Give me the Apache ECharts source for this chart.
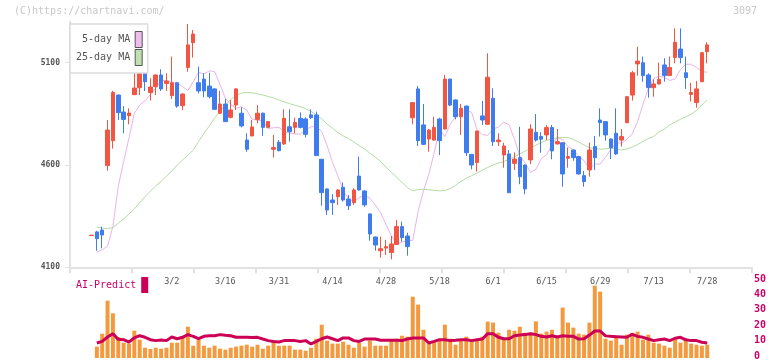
<!DOCTYPE html>
<html><head><meta charset="utf-8">
<script src="https://cdn.jsdelivr.net/npm/echarts@6/dist/echarts.min.js"></script>
<style>html,body{margin:0;padding:0;background:#fff}#c{width:772px;height:361px}</style>
</head><body><div id="c"></div>
<script>
const dates = ['2/6','2/7','2/10','2/12','2/13','2/14','2/17','2/18','2/19','2/20','2/21','2/25','2/26','2/27','2/28',
'3/2','3/3','3/4','3/5','3/6','3/9','3/10','3/11','3/12','3/13','3/16','3/17','3/18','3/19','3/23','3/24','3/25','3/26','3/27','3/30',
'3/31','4/1','4/2','4/3','4/6','4/7','4/8','4/9','4/10','4/13','4/14','4/15','4/16','4/17','4/20','4/21','4/22','4/23','4/24','4/27',
'4/28','4/30','5/1','5/7','5/8','5/11','5/12','5/13','5/14','5/15','5/18','5/19','5/20','5/21','5/22','5/25','5/26','5/27','5/28','5/29',
'6/1','6/2','6/3','6/4','6/5','6/8','6/9','6/10','6/11','6/12','6/15','6/16','6/17','6/18','6/19','6/22','6/23','6/24','6/25','6/26',
'6/29','6/30','7/1','7/2','7/3','7/6','7/7','7/8','7/9','7/10','7/13','7/14','7/15','7/16','7/17','7/20','7/21','7/22','7/24','7/27','7/28'];

const opens = [4255,4273,4282,4597,4719,4942,4859,4841,4944,4978,5061,4954,4983,5040,4999,4939,5002,4890,5077,5198,
5002,5020,4986,4972,4853,4898,4833,4893,4853,4722,4742,4823,4853,4784,4677,4711,4703,4787,4784,4828,
4825,4845,4845,4628,4483,4429,4445,4491,4434,4416,4546,4473,4361,4248,4181,4194,4172,4212,4299,4253,
4831,4972,4796,4727,4722,4825,4776,5020,4918,4836,4888,4652,4612,4840,4799,4926,4714,4649,4654,4608,
4636,4600,4625,4760,4739,4747,4783,4703,4709,4633,4673,4641,4548,4576,4690,4820,4812,4727,4755,4722,
4807,4942,5094,5100,5040,4978,4996,5089,5037,5125,5167,5051,4945,4905,5007,5154];
const closes = [4257,4240,4258,4771,4954,4856,4823,4854,4976,5061,5007,4981,5040,4972,5011,5002,4888,4947,5187,5240,
4962,4962,4934,4872,4898,4812,4869,4972,4791,4677,4786,4853,4784,4812,4685,4670,4828,4763,4808,4784,
4750,4831,4646,4465,4380,4416,4478,4429,4401,4478,4478,4405,4263,4209,4191,4201,4214,4299,4245,4201,
4905,4719,4701,4771,4784,4719,5020,4893,4836,4877,4660,4600,4766,4820,5029,4714,4722,4693,4465,4629,
4543,4483,4776,4722,4726,4783,4669,4714,4556,4641,4636,4556,4519,4673,4636,4807,4747,4685,4654,4739,
4934,5051,5108,5037,4978,4996,5019,5037,5077,5200,5125,5027,4954,4972,5149,5187];
const lows = [4254,4181,4193,4572,4680,4820,4755,4799,4942,4942,4962,4915,4942,4962,4962,4923,4880,4869,5056,5125,
4950,4931,4926,4869,4849,4812,4828,4869,4784,4665,4742,4804,4743,4780,4636,4667,4698,4714,4755,4779,
4735,4825,4646,4401,4356,4356,4405,4421,4380,4405,4475,4396,4230,4181,4147,4160,4139,4209,4225,4157,
4799,4693,4698,4665,4719,4649,4774,4888,4823,4747,4644,4579,4568,4796,4796,4693,4693,4587,4462,4576,
4506,4457,4605,4714,4660,4722,4628,4700,4494,4587,4621,4554,4494,4543,4576,4739,4719,4629,4649,4690,
4804,4915,5037,5007,4929,4934,4994,5007,5035,5097,5097,4972,4910,4880,5005,5097];
const highs = [4258,4278,4299,4820,4963,4945,4888,4877,5089,5126,5064,5024,5043,5068,5048,5130,5004,4950,5289,5260,
5081,5048,5051,4975,4963,4923,4918,4975,4882,4755,4820,4893,4857,4815,4747,4722,4872,4872,4831,4857,
4833,4872,4861,4630,4486,4458,4481,4515,4453,4486,4641,4476,4363,4250,4250,4234,4253,4331,4323,4269,
4907,4986,4898,4776,4836,4831,5040,5022,4921,4898,4890,4654,4768,4913,5146,4975,4755,4709,4673,4662,
4787,4602,4799,4849,4760,4796,4796,4776,4711,4686,4676,4644,4571,4709,4742,4877,4815,4730,4877,4776,
4937,5060,5178,5130,5048,5019,5100,5122,5130,5268,5268,5130,5002,5011,5151,5200];

const ma5 = [null,4173,4186,4203,4300,4496,4616,4732,4852,4893,4914,4944,4976,5013,5012,5002,5001,4983,4964,5007,
5053,5045,5060,5057,4994,4926,4896,4877,4885,4868,4824,4819,4816,4778,4782,4784,4761,4756,4752,4751,
4771,4787,4787,4764,4695,4614,4548,4477,4434,4421,4440,4453,4438,4405,4367,4309,4254,4216,4223,4230,
4232,4373,4474,4554,4659,4776,4739,4799,4837,4850,4869,4857,4773,4748,4745,4775,4786,4810,4796,4725,
4645,4610,4563,4579,4631,4650,4698,4735,4723,4690,4673,4643,4621,4582,4605,4604,4638,4676,4710,4706,
4726,4752,4813,4897,4974,5022,5034,5028,5013,5021,5066,5092,5093,5077,5056,5054];
const ma25 = [null,4296,4292,4288,4295,4315,4337,4360,4385,4415,4445,4472,4498,4520,4545,4570,4600,4625,4648,4673,
4715,4755,4790,4830,4862,4893,4920,4940,4952,4955,4953,4948,4942,4935,4928,4918,4908,4900,4892,4885,
4875,4862,4845,4825,4800,4780,4760,4742,4730,4712,4695,4678,4658,4638,4618,4590,4565,4540,4515,4490,
4474,4480,4481,4479,4476,4474,4475,4485,4500,4520,4535,4548,4560,4575,4588,4600,4610,4617,4628,4640,
4655,4668,4682,4697,4710,4720,4728,4733,4735,4734,4725,4712,4698,4685,4680,4677,4679,4682,4678,4674,
4678,4688,4700,4715,4729,4740,4762,4775,4796,4810,4823,4835,4848,4868,4892,4918];

const volume = [null,7.2,15.4,36.3,28.3,13.3,9.7,9.1,17.3,11.6,6.5,5.7,6.5,5.9,6.5,9.7,9.7,13.3,19.8,7.8,
11.6,7.8,6.5,7.8,5.9,5.3,6.5,7.2,7.8,8.4,7.2,8.4,5.9,7.8,9.7,7.8,7.8,7.8,5.3,5.3,
4.6,6.5,12.2,21.1,11.0,9.1,9.1,10.3,8.4,6.5,9.7,7.2,11.0,7.8,7.8,7.8,11.0,12.2,14.1,13.5,
38.8,33.8,17.9,9.1,11.0,12.2,21.1,12.2,8.4,11.0,13.5,11.0,11.0,13.5,23.0,22.4,16.0,11.6,17.9,17.3,
19.8,16.0,16.0,23.2,15.4,16.7,17.9,14.1,31.9,22.4,19.2,15.4,14.8,22.4,45.8,42.0,12.2,11.0,12.9,8.4,
14.8,16.0,16.7,11.6,14.8,9.7,9.1,7.8,6.5,12.9,9.7,11.6,9.1,8.4,7.8,8.4];
const aiPredict = [null,9.5,10.5,13.3,15.4,11.8,11.6,10.1,12.7,14.1,13.1,11.6,11.0,11.4,11.0,13.3,12.2,13.1,14.8,13.7,
12.2,13.7,14.1,14.1,14.8,14.4,14.1,13.1,13.1,13.1,12.9,13.1,12.0,11.0,10.5,10.1,11.0,11.0,11.0,10.5,
11.0,8.9,10.5,12.2,13.3,12.2,11.0,12.7,12.7,11.0,10.5,12.0,12.0,12.0,11.2,11.2,11.2,11.2,11.0,12.0,
12.7,12.7,12.7,9.5,10.5,11.6,11.6,11.0,11.2,11.6,11.6,11.0,11.6,12.0,15.4,15.4,13.1,12.2,12.2,14.1,
14.5,14.8,15.4,14.8,13.7,13.3,14.1,13.3,14.1,13.7,13.7,12.0,12.2,14.5,17.1,17.1,14.0,13.7,13.5,13.3,
13.1,15.0,13.7,13.1,12.0,11.0,11.5,12.0,11.0,12.5,13.1,11.5,11.0,11.0,10.0,9.5];

const priceTicks = ['4100','4200','4300','4400','4500','4600','4700','4800','4900','5000','5100','5200','5300'];

const MONO = 'DejaVu Sans Mono';
const candleData = opens.map((o, i) => [o, closes[i], lows[i], highs[i]]);
const everyFifth = (i) => i % 5 === 0;

const chart = echarts.init(document.getElementById('c'), null, {renderer: 'canvas'});
const mainTop = 21.8, mainBottom = 93.7, lowTop = 279, lowBottom = 3;
const dataLeft = 88.82, dataRight = 62.1;

chart.setOption({
  animation: false,
  backgroundColor: '#fff',
  graphic: [
    {type: 'text', left: 14, top: 6, style: {text: '(C)https://chartnavi.com/', font: '10px ' + MONO, fill: '#c8c8c8'}},
    {type: 'text', right: 15, top: 6, style: {text: '3097', font: '10px ' + MONO, fill: '#c8c8c8'}}
  ],
  legend: [
    {
      orient: 'vertical', left: 70, top: 24, align: 'right', selectedMode: false,
      itemWidth: 7, itemHeight: 16, itemGap: 1,
      padding: [7, 5, 7, 6],
      backgroundColor: '#fff', borderColor: '#dcdcdc', borderWidth: 1.5, z: 10,
      textStyle: {fontFamily: MONO, fontSize: 10, color: '#555', width: 55, align: 'right'},
      data: [
        {name: '5-day MA', icon: 'rect', itemStyle: {color: '#efbdef', borderColor: '#555', borderWidth: 1}},
        {name: '25-day MA', icon: 'rect', itemStyle: {color: '#bfe0b0', borderColor: '#555', borderWidth: 1}}
      ]
    },
    {
      orient: 'horizontal', left: 76, top: 277, align: 'right', selectedMode: false,
      itemWidth: 7, itemHeight: 16, padding: 0,
      textStyle: {fontFamily: MONO, fontSize: 10, color: '#cc0066'},
      data: [{name: 'AI-Predict', icon: 'rect', itemStyle: {color: '#cc0055', borderWidth: 0}}]
    }
  ],
  grid: [
    {left: dataLeft, right: dataRight, top: mainTop, bottom: mainBottom},
    {left: 70, right: 20, top: mainTop, bottom: mainBottom},
    {left: dataLeft, right: dataRight, top: lowTop, bottom: lowBottom},
    {left: 70, right: 20, top: lowTop, bottom: lowBottom}
  ],
  xAxis: [
    {type: 'category', gridIndex: 0, data: dates, boundaryGap: true,
     axisLine: {show: false}, axisTick: {show: false}, splitLine: {show: false},
     axisLabel: {interval: (i) => i >= 15 && i % 10 === 5, margin: 10, fontFamily: MONO, fontSize: 8.5, color: '#555'}},
    {type: 'value', gridIndex: 1, min: 0, max: 11, interval: 1,
     axisLine: {show: true, onZero: false, lineStyle: {color: '#e2e2e2', width: 2}},
     axisTick: {show: true, length: 6, lineStyle: {color: '#e2e2e2', width: 2}},
     axisLabel: {show: false}, splitLine: {show: false}},
    {type: 'category', gridIndex: 2, data: dates, boundaryGap: true, show: false},
    {type: 'value', gridIndex: 3, min: 0, max: 1, show: false}
  ],
  yAxis: [
    {type: 'value', gridIndex: 0, min: 4100, max: 5300, show: false, scale: true},
    {type: 'category', gridIndex: 1, data: priceTicks, boundaryGap: false,
     axisLine: {show: true, onZero: false, lineStyle: {color: '#e2e2e2', width: 2}},
     axisTick: {show: true, interval: everyFifth, length: 5, lineStyle: {color: '#e2e2e2', width: 1}},
     axisLabel: {interval: everyFifth, margin: 10, fontFamily: MONO, fontSize: 8, fontWeight: 'bold', color: '#555', hideOverlap: false},
     splitLine: {show: false}},
    {type: 'value', gridIndex: 2, min: 0, max: 50, show: false},
    {type: 'value', gridIndex: 3, position: 'right', min: 0, max: 50, interval: 10,
     axisLine: {show: false}, axisTick: {show: false}, splitLine: {show: false},
     axisLabel: {margin: 2, fontFamily: MONO, fontSize: 10, fontWeight: 'bold', color: '#cc0066'}}
  ],
  series: [
    {name: '5-day MA', type: 'line', xAxisIndex: 0, yAxisIndex: 0, data: ma5, symbol: 'none', z: 2,
     lineStyle: {color: '#eab4ea', width: 1}, itemStyle: {color: '#eab4ea'}},
    {name: '25-day MA', type: 'line', xAxisIndex: 0, yAxisIndex: 0, data: ma25, symbol: 'none', z: 2,
     lineStyle: {color: '#b5dca5', width: 1}, itemStyle: {color: '#b5dca5'}},
    {name: 'price', type: 'candlestick', xAxisIndex: 0, yAxisIndex: 0, data: candleData, barWidth: 4, z: 3,
     itemStyle: {color: '#f25542', color0: '#3f7def', borderColor: '#f25542', borderColor0: '#3f7def', borderWidth: 1}},
    {name: 'volume', type: 'bar', xAxisIndex: 2, yAxisIndex: 2, data: volume, barWidth: 4,
     itemStyle: {color: '#f39a3f'}},
    {name: 'AI-Predict', type: 'line', xAxisIndex: 2, yAxisIndex: 2, data: aiPredict, symbol: 'none', z: 3,
     lineStyle: {color: '#cc0055', width: 3}, itemStyle: {color: '#cc0055'}}
  ]
});
</script>
</body></html>
